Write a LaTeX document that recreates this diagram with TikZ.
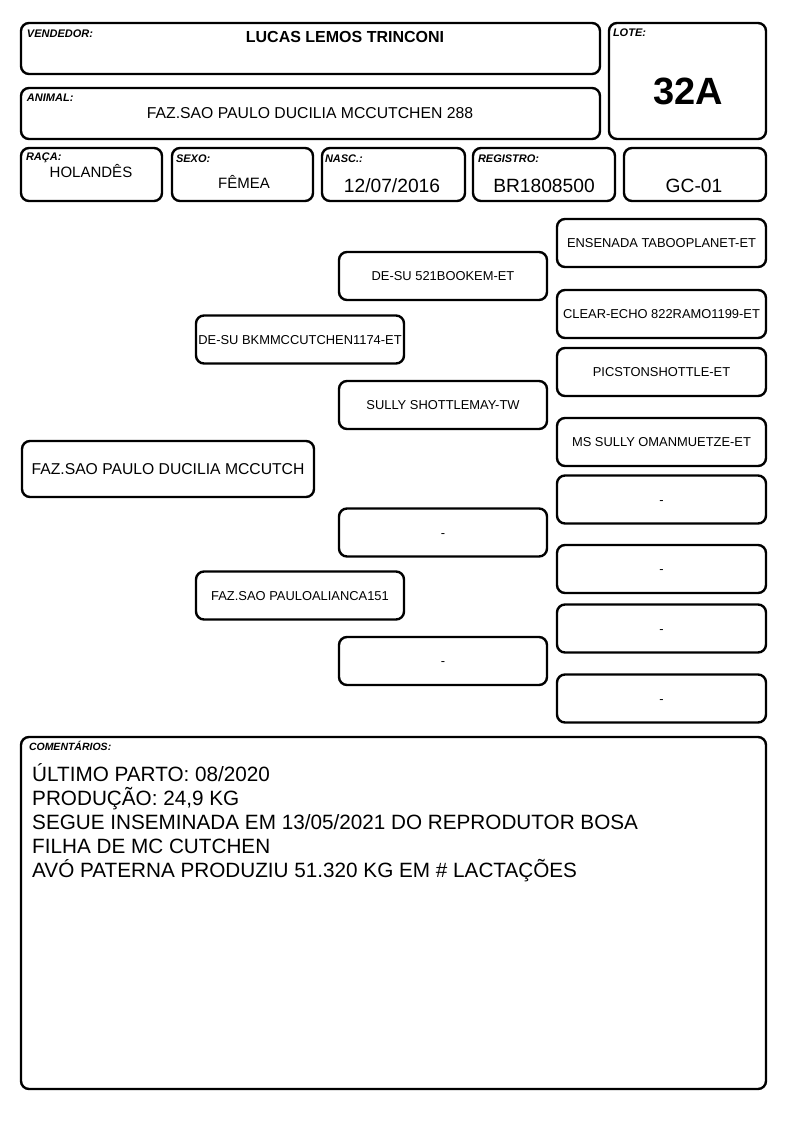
\documentclass[tikz,border=0pt]{standalone}
\usepackage{fontspec}
\setmainfont{Liberation Sans}
\usetikzlibrary{fit,positioning}
\tikzset{
  cell/.style={draw=black,line width=2.4pt,rounded corners=8pt,inner sep=0pt,fill=white},
  tag/.style={font=\bfseries\itshape\fontsize{11}{13}\selectfont,inner sep=0pt,anchor=base west},
  val/.style={font=\fontsize{15}{18}\selectfont,inner sep=0pt,anchor=base},
  big/.style={font=\fontsize{19.2}{23}\selectfont,inner sep=0pt,anchor=base},
  ped/.style={cell,minimum width=208pt,minimum height=48pt,font=\fontsize{12.9}{15}\selectfont,text height=9.2pt,text depth=0pt},
  note/.style={font=\fontsize{20.7}{24}\selectfont,inner sep=0pt,anchor=base west},
}

\begin{document}
\begin{tikzpicture}[x=1pt,y=-1pt]
  \fill[white] (0,0) rectangle (794,1123);
  \useasboundingbox (0,0) rectangle (794,1123);
  % header
  \node[cell,fit={(21,23) (600,74)}] (vend) {};
  \node[cell,fit={(609,23) (766,139)}] (lote) {};
  \node[cell,fit={(21,88) (600,139)}] (anim) {};
  \node[cell,fit={(21,148) (162,201)}] (raca) {};
  \node[cell,fit={(172,148) (313,201)}] (sexo) {};
  \node[cell,fit={(322,148) (465,201)}] (nasc) {};
  \node[cell,fit={(473,148) (615,201)}] (regi) {};
  \node[cell,fit={(624,148) (766,201)}] (grp) {};
  \node[tag] (tvend) at ([xshift=7pt,yshift=-16pt]vend.north west) {VENDEDOR:};
  \node[tag] (tlote) at ([xshift=5pt,yshift=-15pt]lote.north west) {LOTE:};
  \node[tag] (tanim) at ([xshift=7pt,yshift=-15pt]anim.north west) {ANIMAL:};
  \node[tag] (traca) at ([xshift=6pt,yshift=-14pt]raca.north west) {RAÇA:};
  \node[tag] (tsexo) at ([xshift=5pt,yshift=-16pt]sexo.north west) {SEXO:};
  \node[tag] (tnasc) at ([xshift=4pt,yshift=-16pt]nasc.north west) {NASC.:};
  \node[tag] (tregi) at ([xshift=6pt,yshift=-16pt]regi.north west) {REGISTRO:};
  \node[val,font=\bfseries\fontsize{16}{19}\selectfont] (nvend) at (345,43) {LUCAS LEMOS TRINCONI};
  \node[val,font=\bfseries\fontsize{38}{44}\selectfont] (nlote) at (688,104.5) {32A};
  \node[val,font=\fontsize{15.75}{18}\selectfont] (nanim) at (310,118.5) {FAZ.SAO PAULO DUCILIA MCCUTCHEN 288};
  \node[val] (nraca) at (91,177.5) {HOLANDÊS};
  \node[val] (nsexo) at (244,189) {FÊMEA};
  \node[big] (nnasc) at (392,192.6) {12/07/2016};
  \node[big] (nregi) at (544,192.6) {BR1808500};
  \node[big] (ngrp) at (694,192.6) {GC-01};
  % pedigree
  \node[ped,minimum width=292pt,minimum height=56pt,font=\fontsize{15.7}{18}\selectfont,text height=11.2pt] (animal) at (168,469) {FAZ.SAO PAULO DUCILIA MCCUTCH};
  \node[ped] (pai) at (300,339.5) {DE-SU BKMMCCUTCHEN1174-ET};
  \node[ped] (mae) at (300,595.5) {FAZ.SAO PAULOALIANCA151};
  \node[ped] (avo1) at (443,276) {DE-SU 521BOOKEM-ET};
  \node[ped] (avo2) at (443,405) {SULLY SHOTTLEMAY-TW};
  \node[ped] (avo3) at (443,532.5) {-};
  \node[ped] (avo4) at (443,661) {-};
  \foreach \yy/\nm [count=\k] in {243/ENSENADA TABOOPLANET-ET,314/CLEAR-ECHO 822RAMO1199-ET,372/PICSTONSHOTTLE-ET,442/MS SULLY OMANMUETZE-ET,499.5/-,569/-,628.5/-,698.5/-}{
    \node[ped,minimum width=209pt] (bis\k) at (661.5,\yy) {\nm};
  }
  % comments
  \node[cell,fit={(21,737) (766,1089)}] (coment) {};
  \node[tag,font=\bfseries\itshape\fontsize{10.5}{12}\selectfont] (tcoment) at ([xshift=9pt,yshift=-15pt]coment.north west) {COMENTÁRIOS:};
  \foreach \ln [count=\k] in {ÚLTIMO PARTO: 08/2020,{PRODUÇÃO: 24,9 KG},SEGUE INSEMINADA EM 13/05/2021 DO REPRODUTOR BOSA,FILHA DE MC CUTCHEN,AVÓ PATERNA PRODUZIU 51.320 KG EM \# LACTAÇÕES}{
    \node[note] (linha\k) at (32,757+24*\k) {\ln};
  }
\end{tikzpicture}
\end{document}
